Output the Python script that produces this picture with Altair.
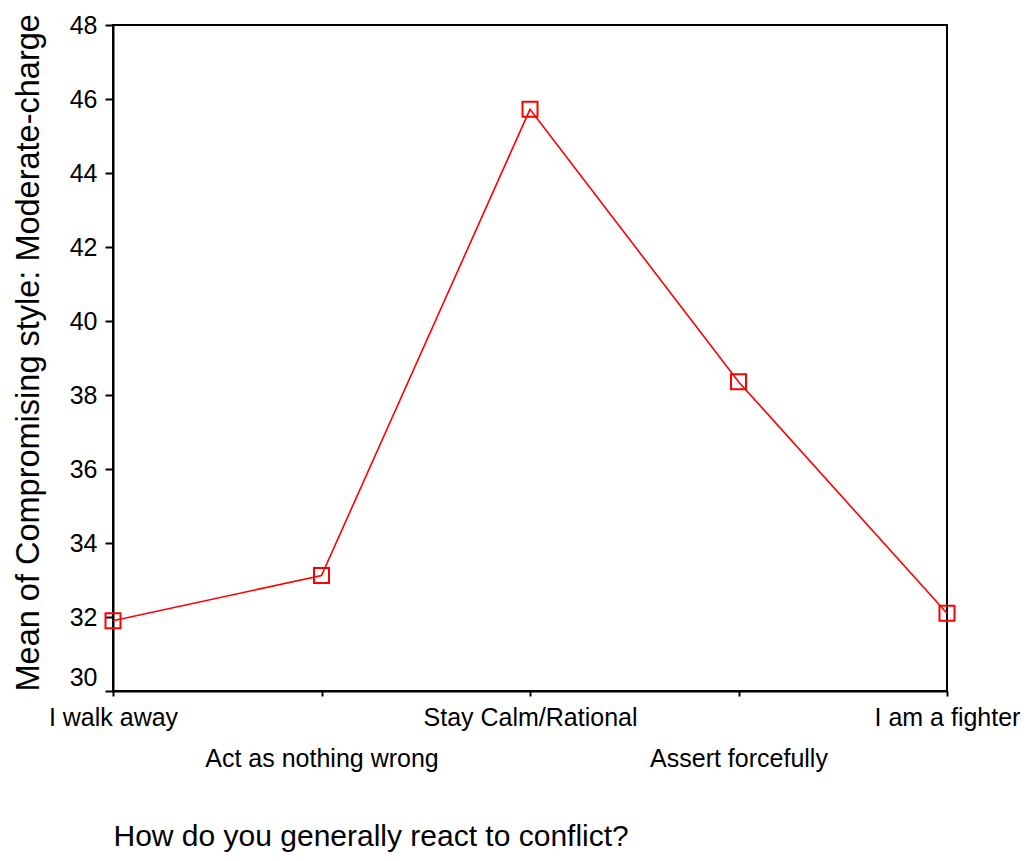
import altair as alt
import pandas as pd

categories = ["I walk away", "Act as nothing wrong", "Stay Calm/Rational",
              "Assert forcefully", "I am a fighter"]
means = [31.90, 33.12, 45.72, 38.36, 32.10]
y_ticks = [30, 32, 34, 36, 38, 40, 42, 44, 46, 48]

x_title = "How do you generally react to conflict?"
y_title = "Mean of Compromising style: Moderate-charge"

df = pd.DataFrame({"reaction": categories, "mean": means})

lowered = [c for i, c in enumerate(categories) if i % 2 == 1]
lowered_js = "[" + ",".join("'" + c + "'" for c in lowered) + "]"
label_expr = f"indexof({lowered_js}, datum.label) >= 0 ? ['', datum.label] : datum.label"

FONT = "Liberation Sans"

x_enc = alt.X(
    "reaction:N",
    sort=categories,
    scale=alt.Scale(type="point", padding=0),
    axis=alt.Axis(
        title=x_title,
        titleAnchor="start",
        titleFontSize=30,
        titleFontWeight="normal",
        titlePadding=50,
        labelAngle=0,
        labelExpr=label_expr,
        labelLineHeight=41,
        labelFontSize=25,
        labelPadding=9,
        labelLimit=0,
        labelOverlap=False,
        labelFlush=False,
        labelBound=False,
        tickSize=5,
        tickWidth=2,
        tickColor="black",
        domainColor="black",
        domainWidth=2,
        labelColor="black",
        titleColor="black",
        grid=False,
    ),
)

y_enc = alt.Y(
    "mean:Q",
    scale=alt.Scale(domain=[30, 48], nice=False, zero=False),
    axis=alt.Axis(
        title=y_title,
        titleAnchor="start",
        titleFontSize=32.5,
        titleFontWeight="normal",
        titlePadding=24,
        titleLimit=0,
        values=y_ticks,
        format="d",
        labelFontSize=25,
        labelPadding=8,
        labelOffset={"condition": {"test": "datum.value == 30", "value": -14}, "value": 0},
        tickSize=8,
        tickWidth=2,
        tickColor="black",
        domainColor="black",
        domainWidth=2,
        labelColor="black",
        titleColor="black",
        grid=False,
    ),
)

base = alt.Chart(df).encode(x=x_enc, y=y_enc)

line = base.mark_line(color="#ff0000", strokeWidth=1.6)
pts = base.mark_point(shape="square", size=225, filled=False, color="#ff0000",
                      strokeWidth=2, opacity=1)

chart = (
    alt.layer(line, pts)
    .properties(
        width=834,
        height=666,
        padding={"left": 105, "top": 17, "right": 74, "bottom": 162},
        autosize=alt.AutoSizeParams(type="none"),
    )
    .configure(font=FONT)
    .configure_view(stroke="black", strokeWidth=2)
)

chart.save("out.html", embed_options={"renderer": "svg", "actions": False})
